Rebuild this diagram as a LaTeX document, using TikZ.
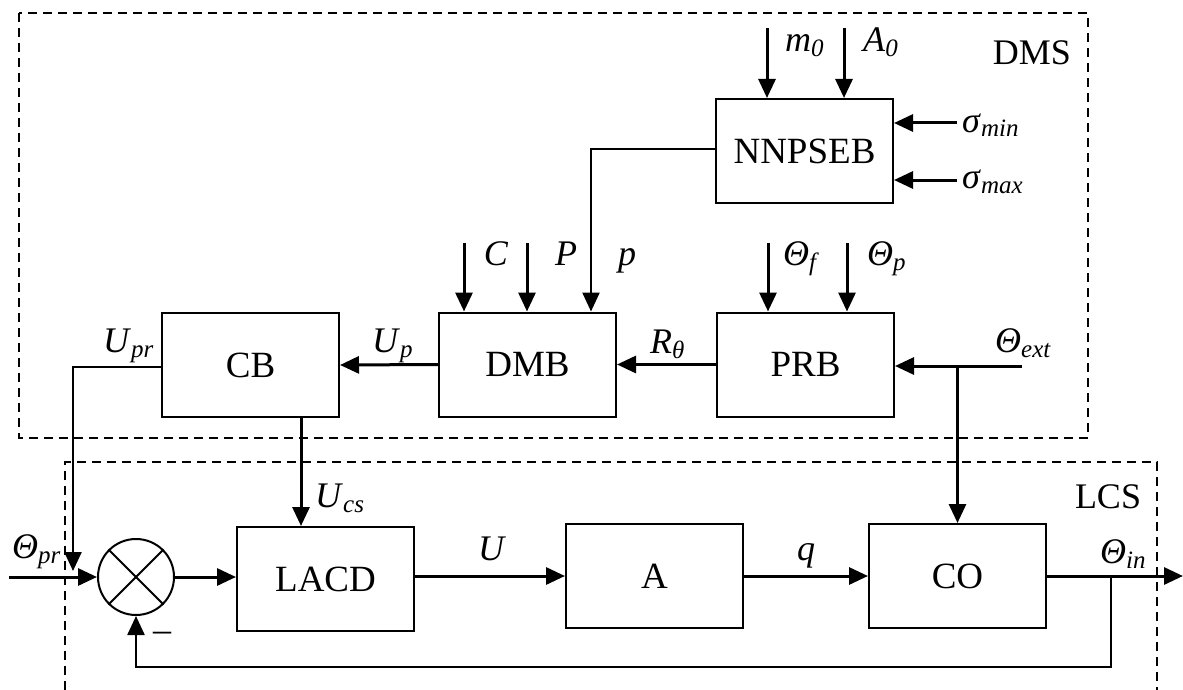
\documentclass[tikz,border=0pt]{standalone}
\usepackage{fontspec}
\setmainfont{Liberation Serif}
\usetikzlibrary{arrows.meta}
\newcommand{\sbx}[2]{\textit{#1}\raisebox{-5pt}{\fontsize{25}{25}\selectfont\textit{#2}}}
\begin{document}
\begin{tikzpicture}[x=1pt,y=-1pt,
 blk/.style={draw,line width=2pt,minimum width=177pt,minimum height=104pt,inner sep=0pt,font=\fontsize{37}{40}\selectfont},
 lbl/.style={inner sep=0pt,font=\fontsize{36}{40}\selectfont},
 arr/.style={line width=3pt,-{Triangle[length=19pt,width=17pt]}},
 ln/.style={line width=2pt},
 frame/.style={line width=2pt,dash pattern=on 9pt off 6pt}]
\useasboundingbox (0,0) rectangle (1183,690);
% frames
\draw[frame] (19,13) rectangle (1088,438);
\draw[frame] (65,690) -- (65,462) -- (1157,462) -- (1157,690);
% blocks
\node[blk] (nn) at (804.5,151) {NNPSEB};
\node[blk] (cb) at (250.5,365) {CB};
\node[blk] (dmb) at (527.5,364.5) {DMB};
\node[blk] (prb) at (805.5,364.5) {PRB};
\node[blk] (lacd) at (325.5,579) {LACD};
\node[blk] (a) at (654.5,576) {A};
\node[blk] (co) at (957.5,576) {CO};
\node[draw,circle,line width=2pt,minimum size=76pt,inner sep=0pt] (sum) at (136,577) {};
\draw[ln] (sum.north west) -- (sum.south east);
\draw[ln] (sum.north east) -- (sum.south west);
% inputs of NNPSEB
\coordinate (m0s) at (767,28);
\coordinate (a0s) at (844,28);
\draw[arr] (m0s) -- (m0s |- nn.north);
\draw[arr] (a0s) -- (a0s |- nn.north);
\coordinate (smin) at (957,123);
\coordinate (smax) at (957,180);
\draw[arr] (smin) -- (smin -| nn.east);
\draw[arr] (smax) -- (smax -| nn.east);
% NNPSEB -> DMB
\coordinate (pc) at (591,149);
\draw[arr,line width=2.4pt] (nn.west |- pc) -- (pc) -- (pc |- dmb.north);
% C and P inputs
\coordinate (cs) at (464,243);
\coordinate (ps) at (527,243);
\draw[arr] (cs) -- (cs |- dmb.north);
\draw[arr] (ps) -- (ps |- dmb.north);
% Theta_f, Theta_p
\coordinate (tfs) at (768,243);
\coordinate (tps) at (847,243);
\draw[arr] (tfs) -- (tfs |- prb.north);
\draw[arr] (tps) -- (tps |- prb.north);
% PRB -> DMB -> CB
\draw[arr] (prb.west) -- (dmb.east);
\draw[arr] (dmb.west) -- (cb.east);
% Theta_ext
\coordinate (ext) at (1022,366);
\coordinate (j1) at (957.5,366);
\draw[arr] (ext) -- (ext -| prb.east);
\draw[arr] (j1) -- (j1 |- co.north);
% U_pr
\coordinate (upr) at (73,367);
\coordinate (uprend) at (73,571);
\draw[arr,line width=2.4pt] (cb.west |- upr) -- (upr) -- (uprend);
% Theta_pr
\coordinate (tpr) at (9,577);
\draw[arr] (tpr) -- (sum.west);
% sum -> LACD
\draw[arr] (sum.east) -- (sum.east -| lacd.west);
% CB -> LACD
\coordinate (ucs) at (301,417);
\draw[arr] (ucs) -- (ucs |- lacd.north);
% LACD -> A -> CO
\draw[arr] (lacd.east |- a.west) -- (a.west);
\draw[arr] (a.east) -- (co.west);
% output and feedback
\coordinate (out) at (1183,576);
\draw[arr] (co.east) -- (out);
\coordinate (j2) at (1111,576);
\coordinate (fb1) at (1111,667);
\coordinate (fb2) at (136,667);
\draw[arr,line width=2.4pt] (j2) -- (fb1) -- (fb2) -- (sum.south);
% labels
\node[lbl,anchor=base west] (lm0) at (785,52) {\sbx{m}{0}};
\node[lbl,anchor=base west] (la0) at (863,52) {\sbx{A}{0}};
\node[lbl,anchor=base] (ldms) at (1032,65) {DMS};
\node[lbl,anchor=base west] (lsmin) at (962,132) {\sbx{σ}{min}};
\node[lbl,anchor=base west] (lsmax) at (962,188) {\sbx{σ}{max}};
\node[lbl,anchor=base] (lc) at (496,265) {\textit{C}};
\node[lbl,anchor=base] (lP) at (566,265) {\textit{P}};
\node[lbl,anchor=base] (lp) at (627,265) {\textit{p}};
\node[lbl,anchor=base west] (ltf) at (783,265) {\sbx{Θ}{f}};
\node[lbl,anchor=base west] (ltp) at (867,265) {\sbx{Θ}{p}};
\node[lbl,anchor=base west] (lrt) at (650,353) {\sbx{R}{θ}};
\node[lbl,anchor=base west] (lup) at (372,352) {\sbx{U}{p}};
\node[lbl,anchor=base west] (lupr) at (103,352) {\sbx{U}{pr}};
\node[lbl,anchor=base west] (lext) at (995,352) {\sbx{Θ}{ext}};
\node[lbl,anchor=base] (llcs) at (1108,508) {LCS};
\node[lbl,anchor=base west] (lin) at (1100,563) {\sbx{Θ}{in}};
\node[lbl,anchor=base west] (lpr) at (12,558) {\sbx{Θ}{pr}};
\node[lbl,anchor=base west] (lucs) at (315,507) {\sbx{U}{cs}};
\node[lbl,anchor=base] (lu) at (492,560) {\textit{U}};
\node[lbl,anchor=base] (lq) at (806,560) {\textit{q}};
\node[lbl] (minus) at (162,637) {\textendash};
\end{tikzpicture}
\end{document}
